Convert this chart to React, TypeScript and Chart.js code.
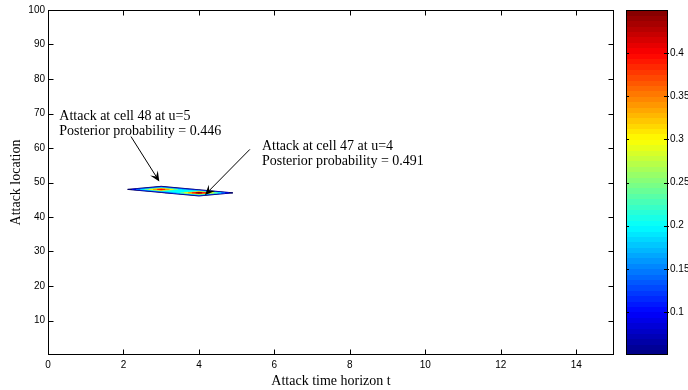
import React, { useEffect, useRef } from "react";
import { Chart, registerables } from "chart.js";
Chart.register(...registerables);

// ---- data ----
const T_GRID = [1, 2, 3, 4, 5, 6]; // attack time horizon grid
const LOC_GRID = [45, 46, 47, 48, 49, 50]; // attack location grid
// posterior probability, one row per location in LOC_GRID, one column per t in T_GRID
const PROB_LOC45 = [0, 0, 0, 0, 0, 0];
const PROB_LOC46 = [0, 0, 0, 0, 0, 0];
const PROB_LOC47 = [0, 0, 0, 0.491, 0, 0];
const PROB_LOC48 = [0, 0, 0.446, 0, 0, 0];
const PROB_LOC49 = [0, 0, 0, 0, 0, 0];
const PROB_LOC50 = [0, 0, 0, 0, 0, 0];
const PROB_ROWS = [PROB_LOC45, PROB_LOC46, PROB_LOC47, PROB_LOC48, PROB_LOC49, PROB_LOC50];

const CONTOUR_LEVELS = [0.05, 0.1, 0.15, 0.2, 0.25, 0.3, 0.35, 0.4, 0.45];
const CBAR_MIN = 0.05;
const CBAR_MAX = 0.45;
const CBAR_TICKS = [0.1, 0.15, 0.2, 0.25, 0.3, 0.35, 0.4];
const X_TICKS = [0, 2, 4, 6, 8, 10, 12, 14];
const Y_TICKS = [10, 20, 30, 40, 50, 60, 70, 80, 90, 100];

const ANNOT1_LINES = ["Attack at cell 48 at u=5", "Posterior probability = 0.446"];
const ANNOT2_LINES = ["Attack at cell 47 at u=4", "Posterior probability = 0.491"];
// text anchor (t, location) and arrow start/end (t, location)
const ANNOT1_POS = [0.3, 69.3];
const ANNOT2_POS = [5.67, 60.6];
const ARROW1 = [2.2, 63.3, 2.95, 50.3];
const ARROW2 = [5.35, 59.6, 4.16, 46.4];

const SERIF = "'Liberation Serif', 'Times New Roman', serif";
const SANS = "'Liberation Sans', Arial, sans-serif";

function clamp01(v: number) {
  return Math.max(0, Math.min(1, v));
}
function jet(t: number): [number, number, number] {
  const r = clamp01(Math.min(4 * t - 1.5, -4 * t + 4.5));
  const g = clamp01(Math.min(4 * t - 0.5, -4 * t + 3.5));
  const b = clamp01(Math.min(4 * t + 0.5, -4 * t + 2.5));
  return [r * 255, g * 255, b * 255];
}
function rgbStr(c: number[]) {
  return `rgb(${Math.round(c[0])},${Math.round(c[1])},${Math.round(c[2])})`;
}

type Pt = { x: number; y: number; cross: boolean };

// marching-squares region {f >= c} for one grid cell, in data coords
function cellPolys(i: number, j: number, c: number): Pt[][] {
  const corners = [
    { x: T_GRID[i], y: LOC_GRID[j], v: PROB_ROWS[j][i] },
    { x: T_GRID[i + 1], y: LOC_GRID[j], v: PROB_ROWS[j][i + 1] },
    { x: T_GRID[i + 1], y: LOC_GRID[j + 1], v: PROB_ROWS[j + 1][i + 1] },
    { x: T_GRID[i], y: LOC_GRID[j + 1], v: PROB_ROWS[j + 1][i] },
  ];
  const up = corners.map((k) => k.v >= c);
  const n = up.filter(Boolean).length;
  if (n === 0) return [];
  const cross = (a: any, b: any): Pt => {
    const f = (c - a.v) / (b.v - a.v);
    return { x: a.x + f * (b.x - a.x), y: a.y + f * (b.y - a.y), cross: true };
  };
  const saddle = n === 2 && up[0] === up[2];
  const center = corners.reduce((s, k) => s + k.v, 0) / 4;
  if (saddle && center < c) {
    const out: Pt[][] = [];
    for (let k = 0; k < 4; k++) {
      if (!up[k]) continue;
      const prev = corners[(k + 3) % 4], next = corners[(k + 1) % 4];
      out.push([
        { x: corners[k].x, y: corners[k].y, cross: false },
        cross(corners[k], next),
        cross(prev, corners[k]),
      ]);
    }
    return out;
  }
  const poly: Pt[] = [];
  for (let k = 0; k < 4; k++) {
    const a = corners[k], b = corners[(k + 1) % 4];
    if (up[k]) poly.push({ x: a.x, y: a.y, cross: false });
    if (up[k] !== up[(k + 1) % 4]) poly.push(cross(a, b));
  }
  return [poly];
}

const contourPlugin = {
  id: "contourFill",
  beforeDatasetsDraw(chart: any) {
    const xs = chart.scales.x, ys = chart.scales.y, ctx = chart.ctx;
    const px = (p: Pt) => xs.getPixelForValue(p.x);
    const py = (p: Pt) => ys.getPixelForValue(p.y);
    ctx.save();
    CONTOUR_LEVELS.forEach((c, li) => {
      const polys: Pt[][] = [];
      for (let j = 0; j < LOC_GRID.length - 1; j++)
        for (let i = 0; i < T_GRID.length - 1; i++) polys.push(...cellPolys(i, j, c));
      if (!polys.length) return;
      ctx.beginPath();
      for (const poly of polys) {
        poly.forEach((p, k) => (k === 0 ? ctx.moveTo(px(p), py(p)) : ctx.lineTo(px(p), py(p))));
        ctx.closePath();
      }
      ctx.fillStyle = rgbStr(jet((c - CBAR_MIN) / (CBAR_MAX - CBAR_MIN)));
      ctx.fill();
      // slight stroke of same colour hides seams between cells
      ctx.strokeStyle = ctx.fillStyle;
      ctx.lineWidth = 0.3;
      ctx.stroke();
      if (li === 0) {
        ctx.beginPath();
        for (const poly of polys) {
          for (let k = 0; k < poly.length; k++) {
            const a = poly[k], b = poly[(k + 1) % poly.length];
            if (a.cross && b.cross) {
              ctx.moveTo(px(a), py(a));
              ctx.lineTo(px(b), py(b));
            }
          }
        }
        ctx.strokeStyle = "rgb(0,0,100)";
        ctx.lineWidth = 0.9;
        ctx.stroke();
      }
    });
    ctx.restore();
  },
};

function drawArrow(ctx: CanvasRenderingContext2D, x1: number, y1: number, x2: number, y2: number) {
  const ang = Math.atan2(y2 - y1, x2 - x1);
  const L = 10, W = 4.5;
  const cos = Math.cos(ang), sin = Math.sin(ang);
  ctx.beginPath();
  ctx.moveTo(x1, y1);
  ctx.lineTo(x2 - cos * L * 0.6, y2 - sin * L * 0.6);
  ctx.stroke();
  ctx.beginPath();
  ctx.moveTo(x2, y2);
  ctx.lineTo(x2 - cos * L - sin * W, y2 - sin * L + cos * W);
  ctx.lineTo(x2 - cos * L * 0.6, y2 - sin * L * 0.6);
  ctx.lineTo(x2 - cos * L + sin * W, y2 - sin * L - cos * W);
  ctx.closePath();
  ctx.fill();
}

const framePlugin = {
  id: "frameAndExtras",
  afterDraw(chart: any) {
    const { ctx, chartArea } = chart;
    const xs = chart.scales.x, ys = chart.scales.y, cb = chart.scales.cb;
    ctx.save();
    ctx.strokeStyle = "#000";
    ctx.fillStyle = "#000";
    ctx.lineWidth = 1;
    const L = Math.round(chartArea.left) + 0.5;
    const R = Math.round(chartArea.right) - 0.5;
    const T = Math.round(chartArea.top) + 0.5;
    const B = Math.round(chartArea.bottom) - 0.5;
    ctx.strokeRect(L, T, R - L, B - T);
    const tl = 5;
    ctx.beginPath();
    for (const v of X_TICKS) {
      const x = Math.round(xs.getPixelForValue(v)) + 0.5;
      if (x <= L + 1 || x >= R - 1) continue;
      ctx.moveTo(x, B); ctx.lineTo(x, B - tl);
      ctx.moveTo(x, T); ctx.lineTo(x, T + tl);
    }
    for (const v of Y_TICKS) {
      const y = Math.round(ys.getPixelForValue(v)) + 0.5;
      if (y <= T + 1 || y >= B - 1) continue;
      ctx.moveTo(L, y); ctx.lineTo(L + tl, y);
      ctx.moveTo(R, y); ctx.lineTo(R - tl, y);
    }
    ctx.stroke();

    // colorbar
    const cbL = 626, cbR = 668;
    const cbTop = cb.getPixelForValue(CBAR_MAX);
    const cbBot = cb.getPixelForValue(CBAR_MIN);
    const N = 64;
    for (let i = 0; i < N; i++) {
      ctx.fillStyle = rgbStr(jet((i + 0.5) / N));
      const ya = cbBot - (i / N) * (cbBot - cbTop);
      const yb = cbBot - ((i + 1) / N) * (cbBot - cbTop);
      ctx.fillRect(cbL, Math.floor(yb), cbR - cbL, Math.ceil(ya) - Math.floor(yb));
    }
    ctx.strokeStyle = "#000";
    ctx.strokeRect(cbL + 0.5, Math.round(cbTop) + 0.5, cbR - cbL - 1, Math.round(cbBot) - Math.round(cbTop) - 1);
    ctx.beginPath();
    for (const v of CBAR_TICKS) {
      const y = Math.round(cb.getPixelForValue(v)) + 0.5;
      ctx.moveTo(cbR - 4, y); ctx.lineTo(cbR + 1, y);
      ctx.moveTo(cbL, y); ctx.lineTo(cbL + 3, y);
    }
    ctx.stroke();

    // annotations
    ctx.fillStyle = "#000";
    ctx.font = `14px ${SERIF}`;
    ctx.textBaseline = "middle";
    ctx.textAlign = "left";
    const drawText = (pos: number[], lines: string[]) => {
      const x = xs.getPixelForValue(pos[0]);
      const y = ys.getPixelForValue(pos[1]);
      lines.forEach((s, k) => ctx.fillText(s, x, y + k * 15));
    };
    drawText(ANNOT1_POS, ANNOT1_LINES);
    drawText(ANNOT2_POS, ANNOT2_LINES);
    for (const a of [ARROW1, ARROW2]) {
      drawArrow(ctx, xs.getPixelForValue(a[0]), ys.getPixelForValue(a[1]), xs.getPixelForValue(a[2]), ys.getPixelForValue(a[3]));
    }
    ctx.restore();
  },
};

export default function App() {
  const ref = useRef<HTMLCanvasElement>(null);
  useEffect(() => {
    if (!ref.current) return;
    const peaks: { x: number; y: number }[] = [];
    PROB_ROWS.forEach((row, j) => row.forEach((p, i) => { if (p > 0) peaks.push({ x: T_GRID[i], y: LOC_GRID[j] }); }));
    const chart = new Chart(ref.current, {
      type: "scatter",
      data: {
        datasets: [{ label: "peaks", data: peaks, pointRadius: 0, showLine: false }],
      },
      options: {
        animation: false,
        responsive: false,
        events: [],
        layout: { padding: { top: 10, left: 0, right: 0, bottom: 0 } },
        plugins: { legend: { display: false }, tooltip: { enabled: false } },
        scales: {
          x: {
            type: "linear", position: "bottom", min: 0, max: 15,
            grid: { display: false, drawTicks: false },
            border: { display: false },
            afterBuildTicks: (s: any) => { s.ticks = X_TICKS.map((v) => ({ value: v })); },
            afterFit: (s: any) => { s.height = 35; s.paddingLeft = 0; s.paddingRight = 0; },
            ticks: { color: "#000", font: { family: SANS, size: 10 }, padding: 4, maxRotation: 0, autoSkip: false },
            title: { display: true, text: "Attack time horizon t", color: "#000", font: { family: SERIF, size: 14 }, padding: { top: 0, bottom: 0 } },
          },
          y: {
            type: "linear", position: "left", min: 0, max: 100,
            grid: { display: false, drawTicks: false },
            border: { display: false },
            afterBuildTicks: (s: any) => { s.ticks = Y_TICKS.map((v) => ({ value: v })); },
            afterFit: (s: any) => { s.width = 48; s.paddingTop = 0; s.paddingBottom = 0; },
            ticks: { color: "#000", font: { family: SANS, size: 10 }, padding: 3, autoSkip: false },
            title: { display: true, text: "Attack location", color: "#000", font: { family: SERIF, size: 14 }, padding: { top: 8, bottom: 0 } },
          },
          cb: {
            type: "linear", position: "right", min: CBAR_MIN, max: CBAR_MAX,
            grid: { display: false, drawTicks: false },
            border: { display: false },
            afterBuildTicks: (s: any) => { s.ticks = CBAR_TICKS.map((v) => ({ value: v })); },
            afterFit: (s: any) => { s.width = 74; s.paddingTop = 0; s.paddingBottom = 0; },
            ticks: { color: "#000", font: { family: SANS, size: 10 }, padding: 56, autoSkip: false, callback: (v: any) => String(Math.round(v * 100) / 100) },
          },
        },
      },
      plugins: [contourPlugin, framePlugin],
    } as any);
    return () => chart.destroy();
  }, []);
  return (
    <div style={{ position: "absolute", left: 0, top: 0, width: 688, height: 390, background: "#fff" }}>
      <canvas ref={ref} width={688} height={390} />
    </div>
  );
}
